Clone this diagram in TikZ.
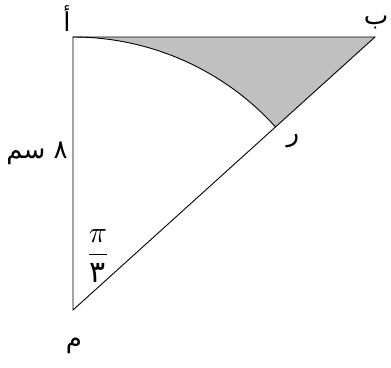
\documentclass[tikz,border=0pt]{standalone}
\usepackage{fontspec}
\newfontfamily\arabicfont[Script=Arabic]{DejaVu Sans}
\TeXXeTstate=1
\definecolor{regiongray}{RGB}{192,192,192}
\begin{document}
\begin{tikzpicture}[x=1pt,y=-1pt,
  lbl/.style={font=\arabicfont\fontsize{26}{30}\selectfont, inner sep=0pt},
  edge/.style={draw=black, line width=0.9pt}]
\useasboundingbox (0,0) rectangle (391,367);
\coordinate (M) at (73,310);
\coordinate (A) at (73,37);
\coordinate (B) at (375,37);
\coordinate (R) at (275.6,126.9);
% shaded region
\fill[regiongray] (A) arc[start angle=-90, end angle=-42.12, radius=273] -- (B) -- cycle;
\draw[edge] (M) -- (A) -- (B) -- cycle;
\draw[edge] (A) arc[start angle=-90, end angle=-42.12, radius=273];
% labels
\node[lbl] (la) at (67,19) {\beginR أ\endR};
\node[lbl] (lb) at (376,22) {\beginR ب\endR};
\node[lbl] (lm) at (74,346) {\beginR م\endR};
\node[lbl] (lr) at (293,141) {\beginR ر\endR};
\node[lbl] (ls) at (37,153) {\beginR ٨ سم\endR};
\node[inner sep=0pt] (ang) at (98,256) {\scalebox{3}{$\displaystyle\frac{\pi}{\hbox{\arabicfont ٣}}$}};
\end{tikzpicture}
\end{document}
